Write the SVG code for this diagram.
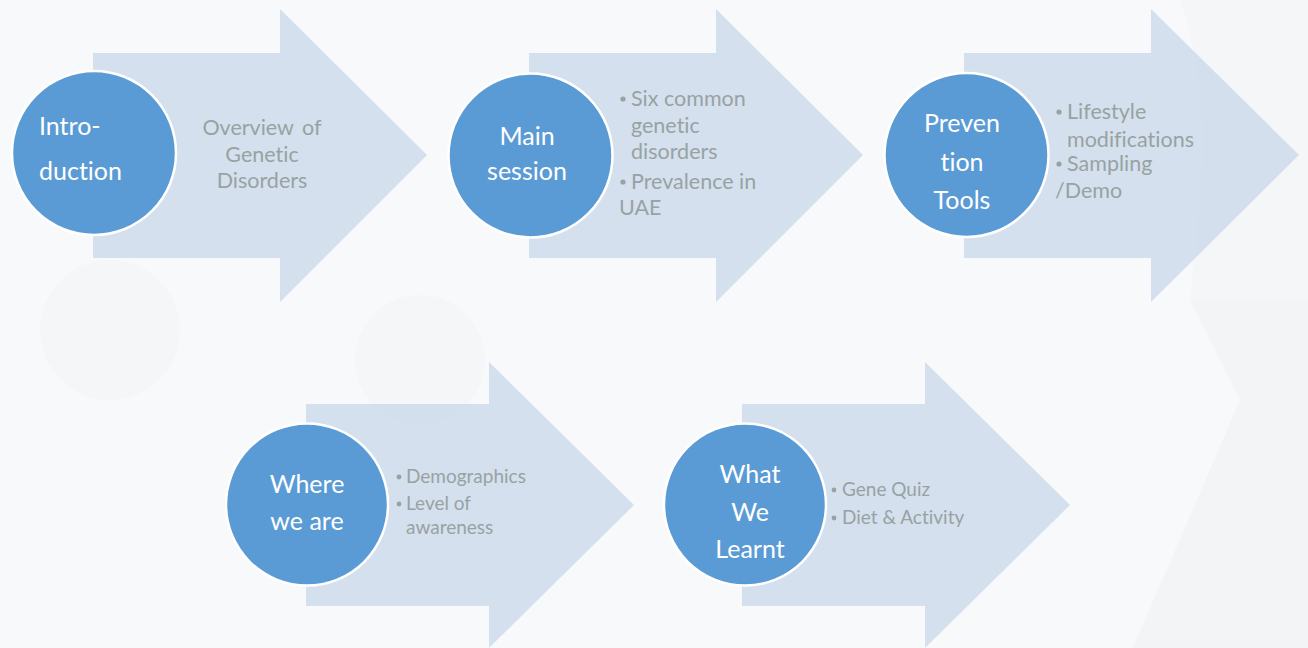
<svg xmlns="http://www.w3.org/2000/svg" width="1308" height="648" viewBox="0 0 1308 648">
<style>
text{font-variant-ligatures:none}
.arrow{fill:#cbd9ea;fill-opacity:0.8}
.circ{fill:#5b9bd5;stroke:#ffffff;stroke-width:2.5}
.ct{font-family:Lato,"Open Sans",sans-serif;font-size:25px;fill:#ffffff}
.at{font-family:Lato,"Open Sans",sans-serif;font-size:21.5px;fill:#98a2a3}
.as{font-family:Lato,"Open Sans",sans-serif;font-size:19px;fill:#98a2a3}
.dot{fill:#98a2a3}
</style>
<rect width="1308" height="648" fill="#f8f9fa"/>
<g id="background" fill="#eef0f1">
<path d="M1190,300 L1240,400 L1133,648 L1308,648 L1308,300 Z" opacity="0.6"/>
<path d="M1180,0 L1308,0 L1308,300 L1190,300 C1200,200 1215,100 1180,0 Z" opacity="0.35"/>
<circle cx="110" cy="330" r="70" fill="#f1f2f3" opacity="0.35"/>
<circle cx="420" cy="360" r="65" fill="#f1f2f3" opacity="0.35"/>
</g>
<g id="node1">
<polygon class="arrow" points="93,53 280,53 280,9 427,155 280,302 280,258 93,258"/>
<circle class="circ" cx="94" cy="153" r="82"/>
<text class="ct" x="39" y="135">Intro-</text>
<text class="ct" x="39" y="180">duction</text>
<text class="at" x="262" y="135" text-anchor="middle" word-spacing="3">Overview of</text>
<text class="at" x="262" y="162" text-anchor="middle">Genetic</text>
<text class="at" x="262" y="188" text-anchor="middle">Disorders</text>
</g>
<g id="node2">
<polygon class="arrow" points="529,53 716,53 716,9 863,155 716,302 716,258 529,258"/>
<circle class="circ" cx="530.5" cy="155.5" r="82"/>
<text class="ct" x="527" y="145" text-anchor="middle">Main</text>
<text class="ct" x="527" y="180" text-anchor="middle">session</text>
<circle class="dot" cx="623" cy="99" r="2.6"/>
<text class="at" x="631" y="106">Six common</text>
<text class="at" x="631" y="133">genetic</text>
<text class="at" x="631" y="159">disorders</text>
<circle class="dot" cx="623" cy="182" r="2.6"/>
<text class="at" x="631" y="189">Prevalence in</text>
<text class="at" x="619" y="215">UAE</text>
</g>
<g id="node3">
<polygon class="arrow" points="964,53 1151,53 1151,9 1299,155 1151,302 1151,258 964,258"/>
<circle class="circ" cx="966.5" cy="155" r="82"/>
<text class="ct" x="962" y="132" text-anchor="middle">Preven</text>
<text class="ct" x="962" y="171" text-anchor="middle">tion</text>
<text class="ct" x="962" y="209" text-anchor="middle">Tools</text>
<circle class="dot" cx="1059" cy="112" r="2.6"/>
<text class="at" x="1067" y="119">Lifestyle</text>
<text class="at" x="1067" y="147">modifications</text>
<circle class="dot" cx="1059" cy="164" r="2.6"/>
<text class="at" x="1067" y="171">Sampling</text>
<text class="at" x="1055" y="198">/Demo</text>
</g>
<g id="node4">
<polygon class="arrow" points="306,404 489,404 489,362 634,505 489,648 489,606 306,606"/>
<circle class="circ" cx="307" cy="504.5" r="81"/>
<text class="ct" x="307" y="493" text-anchor="middle">Where</text>
<text class="ct" x="307" y="530" text-anchor="middle">we are</text>
<circle class="dot" cx="399" cy="477" r="2.4"/>
<text class="as" x="406" y="483">Demographics</text>
<circle class="dot" cx="399" cy="504" r="2.4"/>
<text class="as" x="406" y="510">Level of</text>
<text class="as" x="406" y="534">awareness</text>
</g>
<g id="node5">
<polygon class="arrow" points="742,404 925,404 925,362 1070,505 925,648 925,606 742,606"/>
<circle class="circ" cx="745" cy="504.5" r="81"/>
<text class="ct" x="750" y="483" text-anchor="middle">What</text>
<text class="ct" x="750" y="521" text-anchor="middle">We</text>
<text class="ct" x="750" y="558" text-anchor="middle">Learnt</text>
<circle class="dot" cx="834" cy="490" r="2.4"/>
<text class="as" x="842" y="496">Gene Quiz</text>
<circle class="dot" cx="834" cy="518" r="2.4"/>
<text class="as" x="842" y="524">Diet &amp; Activity</text>
</g>
<g id="connectors"/>
</svg>
